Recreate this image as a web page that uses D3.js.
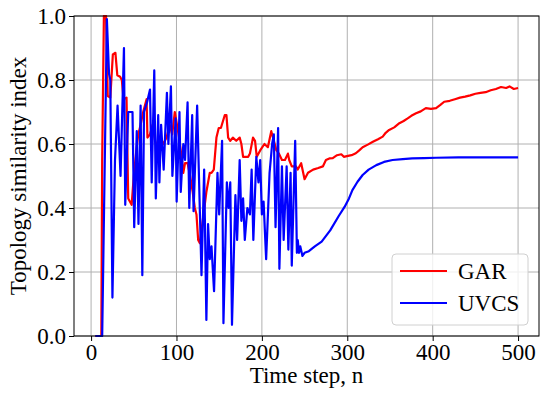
<!DOCTYPE html>
<html>
<head>
    <meta charset="utf-8">
    <title>topology similarity</title>
    <style>
        body { margin: 0; background: #fff; }
    </style>
</head>
<body>
<script src="https://cdn.jsdelivr.net/npm/d3@7"></script>
<script>
    // time steps / values (UVCS = blue, GAR = red)
    var uvcsSteps = [5, 13, 18.5, 21, 22.5, 25, 28, 31, 34.5, 38.5, 40, 43.5, 48.5, 50.5, 53.5, 55.5, 58, 60, 62, 65.5,
        69, 71, 74, 75.8, 78.6, 80, 82, 85, 88.8, 90.5, 93.5, 95.2, 99, 100.2, 103.5, 105, 108, 110, 113, 115,
        118.4, 120, 124.2, 129.3, 132.4, 135, 137, 139, 141, 144, 148, 150, 153.4, 155, 159, 161, 163, 165, 169, 171,
        174, 176, 178, 180, 183, 186, 188, 190, 193.5, 196, 198, 200, 202, 205, 209, 212, 214, 216, 219, 220.5,
        223.5, 225.5, 229, 231, 233.6, 235, 239, 241, 242, 243.5, 245, 247.5, 250, 255, 262, 270, 280, 290, 297, 302,
        306, 312, 318, 325, 334, 343, 353, 365, 376, 390, 404, 430, 460, 500];
    var uvcsValues = [0, 0, 0.99, 0.82, 0.80, 0.12, 0.55, 0.72, 0.50, 0.90, 0.41, 0.70, 0.70, 0.34, 0.64, 0.35, 0.72, 0.19, 0.70, 0.73,
        0.77, 0.48, 0.83, 0.43, 0.69, 0.48, 0.66, 0.52, 0.76, 0.60, 0.78, 0.50, 0.68, 0.42, 0.70, 0.45, 0.60, 0.55, 0.73, 0.40,
        0.69, 0.39, 0.72, 0.19, 0.52, 0.05, 0.35, 0.24, 0.28, 0.14, 0.51, 0.38, 0.61, 0.04, 0.48, 0.40, 0.48, 0.035, 0.44, 0.30,
        0.55, 0.36, 0.43, 0.30, 0.40, 0.38, 0.52, 0.30, 0.56, 0.48, 0.55, 0.38, 0.42, 0.24, 0.51, 0.60, 0.63, 0.34, 0.65, 0.21,
        0.53, 0.30, 0.53, 0.27, 0.51, 0.22, 0.61, 0.26, 0.30, 0.26, 0.28, 0.25, 0.26, 0.265, 0.28, 0.295, 0.33, 0.375, 0.404, 0.43,
        0.456, 0.482, 0.503, 0.52, 0.534, 0.544, 0.55, 0.553, 0.555, 0.556, 0.557, 0.558, 0.558, 0.558];

    var garSteps = [5, 12, 13, 15, 17.5, 19.5, 22.5, 25.5, 28.5, 30.7, 34, 36, 38, 41.5, 43.5, 47.5, 50, 53, 55.3, 58,
        61, 65, 66, 69, 72, 75, 78.6, 81, 84.5, 88.4, 92, 95, 98, 100, 103, 106, 108, 110, 113, 116,
        119, 121.5, 123.4, 125.4, 127.4, 131.2, 135, 139, 141, 143.7, 146.8, 149.5, 152, 156.5, 158.5, 160.5, 163, 166, 170, 174,
        176, 178, 184, 186, 189.6, 192, 194, 198, 203, 207, 211, 214, 217, 220, 223.5, 227, 230.5, 232, 235, 240,
        242, 246, 250, 254, 260, 266, 271.4, 275, 279, 283, 288, 293, 296, 299.5, 305, 310, 314, 318, 324, 330,
        336, 341.5, 345, 349, 355, 361, 366, 370.7, 375, 380.5, 386, 392, 398, 404, 409, 413.5, 420, 426, 432, 438,
        444, 450, 456, 462, 468, 474, 480, 486, 490, 495, 500];
    var garValues = [0, 0, 0.55, 1.0, 1.0, 0.75, 0.745, 0.88, 0.885, 0.815, 0.81, 0.80, 0.74, 0.745, 0.43, 0.41, 0.50, 0.58, 0.63, 0.66,
        0.70, 0.74, 0.62, 0.63, 0.66, 0.61, 0.58, 0.62, 0.60, 0.62, 0.66, 0.63, 0.70, 0.67, 0.62, 0.56, 0.51, 0.54, 0.54, 0.50,
        0.45, 0.40, 0.38, 0.30, 0.29, 0.37, 0.45, 0.51, 0.51, 0.52, 0.62, 0.65, 0.65, 0.69, 0.69, 0.62, 0.61, 0.62, 0.61, 0.62,
        0.60, 0.56, 0.56, 0.57, 0.62, 0.61, 0.56, 0.58, 0.60, 0.59, 0.64, 0.61, 0.58, 0.57, 0.55, 0.55, 0.57, 0.55, 0.53, 0.53,
        0.52, 0.54, 0.49, 0.51, 0.52, 0.525, 0.53, 0.55, 0.555, 0.556, 0.565, 0.568, 0.56, 0.562, 0.565, 0.571, 0.58, 0.59, 0.598, 0.607,
        0.615, 0.623, 0.635, 0.644, 0.652, 0.665, 0.672, 0.68, 0.688, 0.696, 0.702, 0.712, 0.71, 0.712, 0.722, 0.732, 0.735, 0.74, 0.745, 0.748,
        0.752, 0.757, 0.76, 0.762, 0.768, 0.772, 0.778, 0.775, 0.78, 0.772, 0.775];

    var xTicks = [0, 100, 200, 300, 400, 500];
    var yTicks = [0.0, 0.2, 0.4, 0.6, 0.8, 1.0];
    var seriesNames = ["GAR", "UVCS"];
    var seriesColors = ["#ff0000", "#0000ff"];

    var W = 550, H = 397;
    var margin = {top: 16, right: 11, bottom: 61, left: 74},
        width = W - margin.left - margin.right,
        height = H - margin.top - margin.bottom;
    var serif = "Liberation Serif";
    var fontSize = 23;

    var svg = d3.select("body").append("svg")
        .attr("width", W)
        .attr("height", H)
        .style("font-family", serif)
        .style("font-size", fontSize + "px");
    var g = svg.append("g")
        .attr("transform", "translate(" + margin.left + "," + margin.top + ")");

    var x = d3.scaleLinear().domain([-20, 524.5]).range([0, width]);
    var y = d3.scaleLinear().domain([0, 1]).range([height, 0]);

    // grid
    var grid = g.append("g").attr("stroke", "#b0b0b0").attr("stroke-width", 1);
    grid.selectAll("line.gx").data(xTicks).enter().append("line")
        .attr("x1", function (d) { return x(d); })
        .attr("x2", function (d) { return x(d); })
        .attr("y1", 0).attr("y2", height);
    grid.selectAll("line.gy").data(yTicks).enter().append("line")
        .attr("y1", function (d) { return y(d); })
        .attr("y2", function (d) { return y(d); })
        .attr("x1", 0).attr("x2", width);

    // lines
    var series = [
        {steps: garSteps, values: garValues},
        {steps: uvcsSteps, values: uvcsValues}
    ];
    var line = d3.line()
        .x(function (d) { return x(d[0]); })
        .y(function (d) { return y(d[1]); });

    g.append("clipPath").attr("id", "clip")
        .append("rect").attr("x", 0).attr("y", -1).attr("width", width).attr("height", height + 2);

    series.forEach(function (s, i) {
        g.append("path")
            .attr("clip-path", "url(#clip)")
            .attr("fill", "none")
            .attr("stroke", seriesColors[i])
            .attr("stroke-width", 2.2)
            .attr("stroke-linejoin", "round")
            .attr("d", line(d3.zip(s.steps, s.values)));
    });

    // axes
    var xAxis = g.append("g")
        .attr("transform", "translate(0," + height + ")")
        .call(d3.axisBottom(x).tickValues(xTicks).tickSize(5).tickPadding(3).tickSizeOuter(0));
    var yAxis = g.append("g")
        .call(d3.axisLeft(y).tickValues(yTicks).tickFormat(d3.format(".1f")).tickSize(5).tickPadding(3).tickSizeOuter(0));
    [xAxis, yAxis].forEach(function (a) {
        a.attr("font-family", null).attr("font-size", null);
        a.select(".domain").remove();
        a.selectAll("text").attr("fill", "#000")
            .style("font-family", serif)
            .style("font-size", fontSize + "px");
    });

    // frame
    g.append("rect")
        .attr("width", width).attr("height", height)
        .attr("fill", "none").attr("stroke", "#000").attr("stroke-width", 1);

    // labels
    svg.append("text")
        .attr("x", margin.left + width / 2)
        .attr("y", 383)
        .attr("text-anchor", "middle")
        .text("Time step, n");
    svg.append("text")
        .attr("transform", "translate(26," + (margin.top + height / 2) + ") rotate(-90)")
        .attr("text-anchor", "middle")
        .text("Topology similarity index");

    // legend
    var legend = svg.append("g").attr("transform", "translate(392,254)");
    legend.append("rect")
        .attr("width", 136).attr("height", 71)
        .attr("rx", 4).attr("ry", 4)
        .attr("fill", "#fff").attr("fill-opacity", 0.8)
        .attr("stroke", "#d0d0d0");
    seriesNames.forEach(function (name, i) {
        var ly = 17 + i * 32;
        legend.append("line")
            .attr("x1", 8).attr("x2", 55)
            .attr("y1", ly).attr("y2", ly)
            .attr("stroke", seriesColors[i]).attr("stroke-width", 2.2);
        legend.append("text")
            .attr("x", 66).attr("y", ly)
            .attr("dy", "0.35em")
            .text(name);
    });
</script>
</body>
</html>
